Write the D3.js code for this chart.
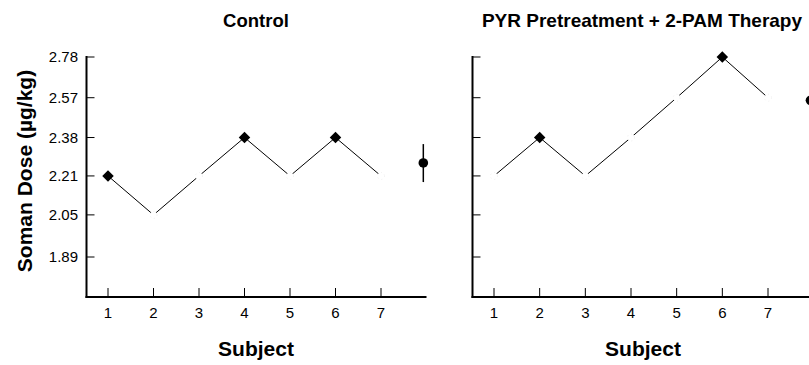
<!DOCTYPE html>
<html><head><meta charset="utf-8">
<script src="https://cdn.jsdelivr.net/npm/d3@7"></script>
<style>body{margin:0;background:#fff}svg{display:block}text{font-family:"Liberation Sans",Arial,sans-serif;fill:#000}</style>
</head><body>
<svg id="c" width="809" height="365"></svg>
<script>
const subjects = [1,2,3,4,5,6,7];
const doseTicks = [1.89,2.05,2.21,2.38,2.57,2.78];
const controlDose = [2.21,2.05,2.21,2.38,2.21,2.38,2.21];
const controlDied = [true,false,false,true,false,true,false];
const pyrDose = [2.21,2.38,2.21,2.38,2.57,2.78,2.57];
const pyrDied = [false,true,false,false,false,true,false];
const meanX = 7.93;
const controlMean = {m:2.266, lo:2.184, hi:2.350};
const pyrMean = {m:2.557, lo:2.54, hi:2.575};
const titles = ["Control","PYR Pretreatment + 2-PAM Therapy"];

const svg = d3.select("#c");
const y = d3.scaleLog().domain([1.89,2.78]).range([257,57]);
const yBottom = 297;

function panel(x0, x1px7, title, doses, died, mean, axisEnd, titleX, subjX) {
  const x = d3.scaleLinear().domain([1,7]).range([x0, x1px7]);
  const axX = x0 - 21.5;
  const g = svg.append("g");
  g.append("line").attr("x1",axX).attr("x2",axX).attr("y1",56).attr("y2",yBottom+1)
    .attr("stroke","#000").attr("stroke-width",2);
  g.append("line").attr("x1",axX-1).attr("x2",x(axisEnd)).attr("y1",yBottom).attr("y2",yBottom)
    .attr("stroke","#000").attr("stroke-width",2);
  g.selectAll(".yt").data(doseTicks).join("line")
    .attr("x1",axX).attr("x2",axX+8).attr("y1",d=>y(d)).attr("y2",d=>y(d))
    .attr("stroke","#000").attr("stroke-width",1);
  g.selectAll(".xt").data(subjects).join("line")
    .attr("x1",d=>x(d)).attr("x2",d=>x(d)).attr("y1",yBottom).attr("y2",yBottom-9)
    .attr("stroke","#000").attr("stroke-width",1);
  g.selectAll(".xl").data(subjects).join("text")
    .attr("x",d=>x(d)).attr("y",318).attr("text-anchor","middle")
    .attr("font-size","15px").text(d=>d);
  if (title === titles[0]) {
    g.selectAll(".yl").data(doseTicks).join("text")
      .attr("x",78).attr("y",d=>y(d)+5).attr("text-anchor","end")
      .attr("font-size","15px").text(d=>d.toFixed(2));
  }
  const pts = subjects.map((s,i)=>[x(s), y(doses[i])]);
  g.append("path").attr("d", d3.line()(pts)).attr("fill","none").attr("stroke","#000").attr("stroke-width",1);
  g.selectAll(".om").data(subjects.filter((s,i)=>!died[i])).join("circle")
    .attr("cx",d=>x(d)).attr("cy",d=>y(doses[d-1])).attr("r",3.5)
    .attr("fill","#fff").attr("stroke","#ddd").attr("stroke-width",0.5).attr("stroke-dasharray","1,3");
  const sym = d3.symbol().type(d3.symbolSquare).size(66);
  g.selectAll(".fm").data(subjects.filter((s,i)=>died[i])).join("path")
    .attr("d", sym)
    .attr("transform", d=>`translate(${x(d)},${y(doses[d-1])}) rotate(45)`)
    .attr("fill","#000");
  g.append("line").attr("x1",x(meanX)).attr("x2",x(meanX)).attr("y1",y(mean.hi)).attr("y2",y(mean.lo))
    .attr("stroke","#000").attr("stroke-width",1.5);
  g.append("circle").attr("cx",x(meanX)).attr("cy",y(mean.m)).attr("r",4.8).attr("fill","#000");
  svg.append("text").attr("x",titleX).attr("y",27).attr("text-anchor","middle")
    .attr("font-size", title === titles[0] ? "18.5px" : "19px").attr("font-weight","bold").text(title);
  svg.append("text").attr("x",subjX).attr("y",356).attr("text-anchor","middle")
    .attr("font-size","21px").attr("font-weight","bold").text("Subject");
}

panel(108, 381, titles[0], controlDose, controlDied, controlMean, 8.0, 256, 256);
panel(494, 768, titles[1], pyrDose, pyrDied, pyrMean, 8.5, 642, 643);

svg.append("text").attr("transform","translate(32,171) rotate(-90)")
  .attr("text-anchor","middle").attr("font-size","21px").attr("font-weight","bold")
  .text("Soman Dose (µg/kg)");
</script>
</body></html>
